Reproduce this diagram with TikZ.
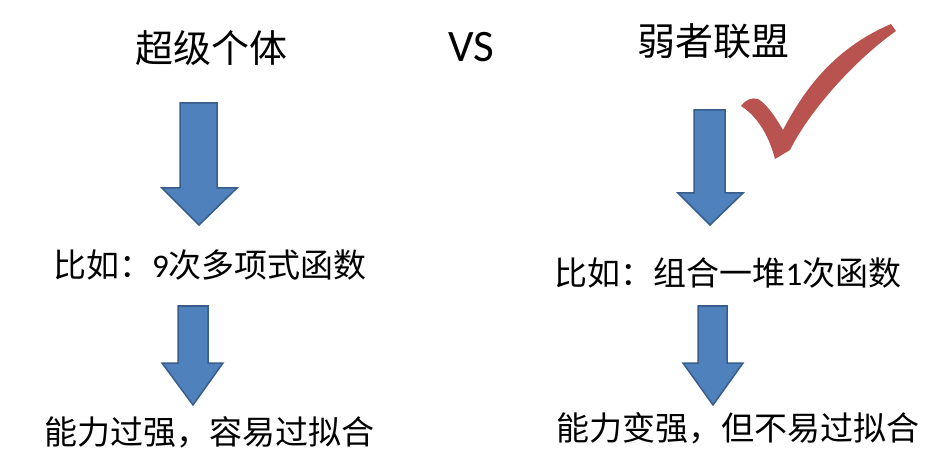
\documentclass[tikz,border=0pt]{standalone}
\usepackage{fontspec}
\newfontfamily\cjkfont{Noto Sans CJK SC}
\newfontfamily\calfont{Carlito}
\definecolor{arrowfill}{HTML}{4F81BD}
\definecolor{arrowline}{HTML}{385D8A}
\definecolor{checkred}{HTML}{B9534F}
\begin{document}
\begin{tikzpicture}[x=1pt,y=-1pt,
  blockarrow/.style={fill=arrowfill,draw=arrowline,line width=1.5pt,line join=miter},
  titletext/.style={anchor=base,inner sep=0pt,font=\cjkfont\fontsize{38}{44}\selectfont},
  bodytext/.style={anchor=base,inner sep=0pt,font=\cjkfont\fontsize{33}{40}\selectfont},
  vstext/.style={anchor=base,inner sep=0pt,font=\calfont\fontsize{45}{52}\selectfont}]
\useasboundingbox (0,0) rectangle (951,465);
\fill[white] (0,0) rectangle (951,465);

% titles
\node[titletext] (t1) at (211,62.4) {超级个体};
\node[vstext] (vs) at (471,62) {VS};
\node[titletext] (t2) at (713,55.4) {弱者联盟};

% body texts
\node[bodytext] (l1) at (210,277.5) {比如：{\calfont 9}次多项式函数};
\node[bodytext] (l2) at (210,444.5) {能力过强，容易过拟合};
\node[bodytext] (r1) at (728,285.5) {比如：组合一堆{\calfont 1}次函数};
\node[bodytext] (r2) at (738,440.5) {能力变强，但不易过拟合};

% block arrows
\draw[blockarrow] (180,103) -- (217,103) -- (217,188) -- (237,188) -- (199,225) -- (162,188) -- (180,188) -- cycle;
\draw[blockarrow] (178,306) -- (208,306) -- (208,363) -- (223,363) -- (193,405) -- (162,363) -- (178,363) -- cycle;
\draw[blockarrow] (694,110) -- (725,110) -- (725,193) -- (743,193) -- (710,225) -- (678,193) -- (694,193) -- cycle;
\draw[blockarrow] (698,306) -- (727,306) -- (727,363) -- (743,363) -- (713,405) -- (683,363) -- (698,363) -- cycle;

% check mark
\fill[checkred] (741,106) .. controls (745,100) and (752,97) .. (758,99)
  .. controls (767,104) and (776,118) .. (783,130)
  .. controls (805,88) and (835,48) .. (891,24)
  -- (896,31)
  .. controls (855,60) and (810,110) .. (790,150)
  -- (775,159)
  .. controls (770,140) and (760,118) .. (741,106) -- cycle;
\end{tikzpicture}
\end{document}
